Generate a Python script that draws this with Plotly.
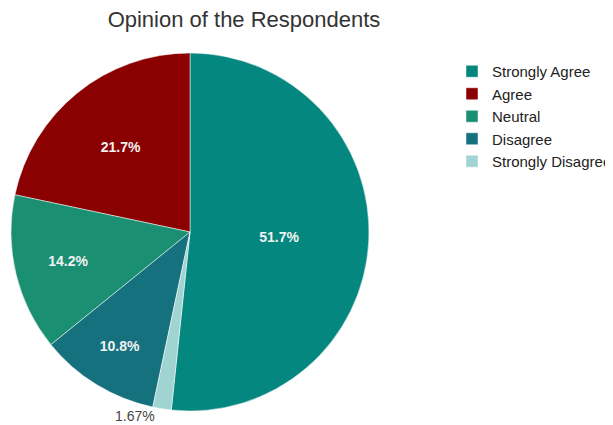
import plotly.graph_objects as go

labels = ["Strongly Agree", "Agree", "Neutral", "Disagree", "Strongly Disagree"]
counts = [62, 26, 17, 13, 2]
colors = ["#03877f", "#8b0000", "#1b8f72", "#16717f", "#9fd4d2"]
text_positions = ["inside", "inside", "inside", "inside", "none"]

FONT = "Liberation Sans, Arial, sans-serif"
W, H = 605, 417  # page body has an 8px margin

fig = go.Figure(go.Pie(
    labels=labels,
    values=counts,
    sort=False,
    direction="counterclockwise",
    rotation=0,
    marker=dict(colors=colors, line=dict(color="white", width=0.5)),
    textinfo="percent",
    textposition=text_positions,
    insidetextorientation="horizontal",
    insidetextfont=dict(family=FONT, size=14, color="#f2f2f2", weight="bold"),
    domain=dict(x=[3/W, 361/W], y=[14/H, 372/H]),
    automargin=False,
))

# outside label for the small slice
small_pct = counts[4] / sum(counts) * 100
fig.add_annotation(text=f"{small_pct:.3g}%", x=127/W, y=1 - 408/H,
                   xref="paper", yref="paper", xanchor="center", yanchor="middle",
                   showarrow=False,
                   font=dict(family=FONT, size=14, color="#444444"))

fig.update_layout(
    width=W, height=H,
    margin=dict(l=0, r=0, t=0, b=0, autoexpand=False),
    paper_bgcolor="white",
    font=dict(family=FONT),
    title=dict(text="Opinion of the Respondents", x=236/W, xanchor="center",
               y=1 - 11/H, yanchor="middle",
               font=dict(size=22, color="#333333")),
    legend=dict(x=444/W, xanchor="left", y=1 - 47/H, yanchor="top",
                font=dict(size=15, color="#222222"), bgcolor="rgba(0,0,0,0)"),
)

fig.write_html("out.html")
